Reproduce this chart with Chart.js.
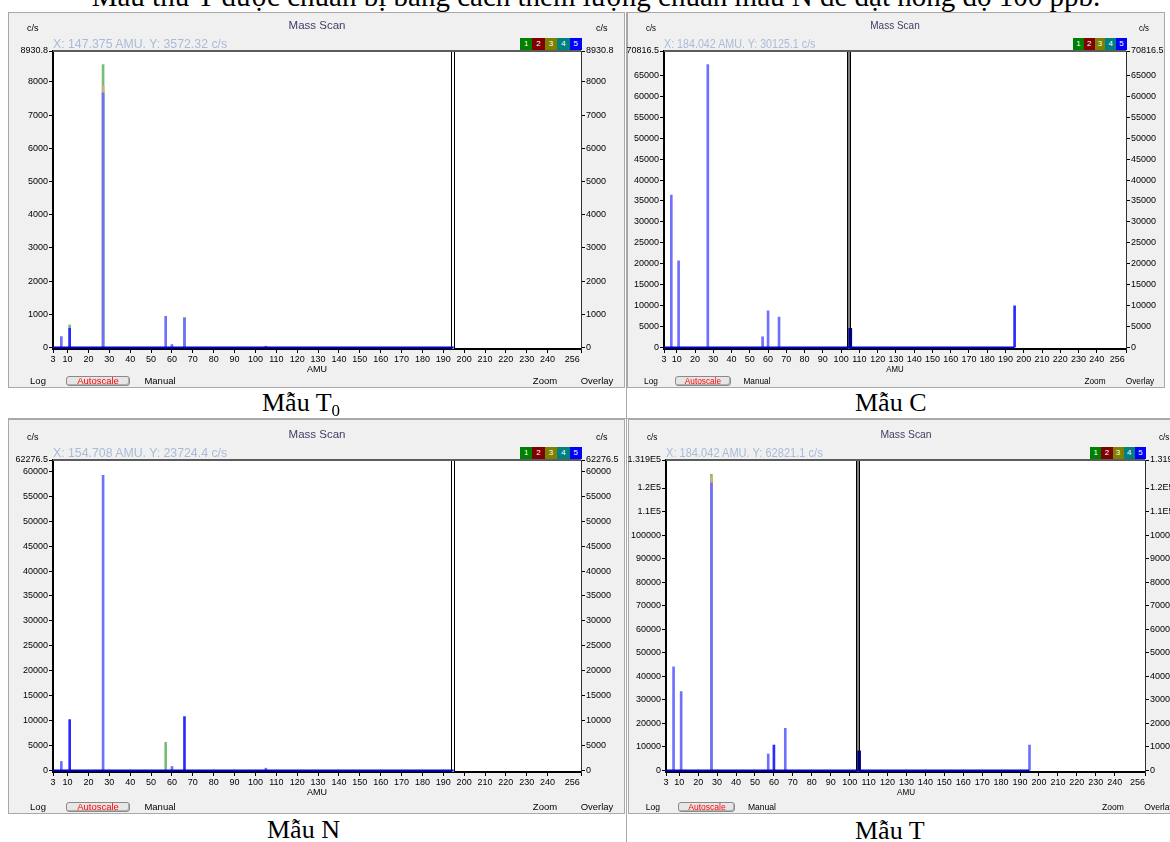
<!DOCTYPE html>
<html><head><meta charset="utf-8">
<script src="https://cdn.jsdelivr.net/npm/chart.js@4.4.1/dist/chart.umd.min.js"></script>
<style>
html,body{margin:0;padding:0;background:#fff;}
body{width:1170px;height:842px;overflow:hidden;position:relative;font-family:"Liberation Sans",Arial,sans-serif;}
.panel{position:absolute;background:#f0f0f0;box-shadow:inset 0 0 0 1px #a8a8a8;}
.t{position:absolute;white-space:nowrap;line-height:1;}
.cs{font-size:9px;color:#000;}
.ms{font-size:11.5px;color:#3e3e66;}
.rd{font-size:12.3px;color:#a9bbd7;}
.bt{font-size:9.5px;color:#000;}
.amu{font-size:9px;color:#000;}
.serif{position:absolute;white-space:nowrap;font-family:"Liberation Serif","Times New Roman",serif;font-size:26px;line-height:26px;color:#000;}
.line{position:absolute;background:#a8a8a8;}
.leg{position:absolute;color:#fff;font-size:8px;line-height:1;display:flex;align-items:center;justify-content:center;}
.btn{position:absolute;border:1px solid #8a8a8a;border-radius:3px;background:#e6e6e6;box-shadow:inset -1px -1px 0 #b0b0b0;box-sizing:border-box;}
</style></head>
<body>
<script>
// ---------------- data ----------------
const peakAMU = [7, 11, 27, 57, 60, 66, 105, 195];
const scanRange = [3, 195];
const xTicks = [3,10,20,30,40,50,60,70,80,90,100,110,120,130,140,150,160,170,180,190,200,210,220,230,240,256];

// Mẫu T0
const t0Blue  = [330, 580, 7670, 940, 90, 880, 0, 0];
const t0Olive = [0, 0, 7870, 0, 0, 0, 0, 0];
const t0Green = [0, 680, 8520, 0, 0, 910, 0, 0];
const t0Red   = [0, 0, 0, 0, 0, 0, 40, 0];
const t0YTicks  = [0,1000,2000,3000,4000,5000,6000,7000,8000,8930.8];
const t0YLabels = ['0','1000','2000','3000','4000','5000','6000','7000','8000','8930.8'];
const t0Cursor = 194.8;
const t0Readout = 'X: 147.375 AMU. Y: 3572.32 c/s';

// Mẫu C
const cBlue  = [36400, 20700, 67600, 2570, 8760, 7260, 4570, 9950];
const cYTicks  = [0,5000,10000,15000,20000,25000,30000,35000,40000,45000,50000,55000,60000,65000,70816.5];
const cYLabels = ['0','5000','10000','15000','20000','25000','30000','35000','40000','45000','50000','55000','60000','65000','70816.5'];
const cCursor = 104.3;
const cReadout = 'X: 184.042 AMU. Y: 30125.1 c/s';

// Mẫu N
const nBlue  = [1800, 10200, 59200, 0, 800, 10800, 460, 0];
const nGreen = [0, 0, 0, 5640, 0, 0, 0, 0];
const nYTicks  = [0,5000,10000,15000,20000,25000,30000,35000,40000,45000,50000,55000,60000,62276.5];
const nYLabels = ['0','5000','10000','15000','20000','25000','30000','35000','40000','45000','50000','55000','60000','62276.5'];
const nCursor = 194.8;
const nReadout = 'X: 154.708 AMU. Y: 23724.4 c/s';

// Mẫu T
const tBlue  = [44000, 33500, 122200, 7000, 10800, 17900, 8300, 10800];
const tOlive = [0, 0, 124500, 0, 0, 0, 0, 0];
const tGreen = [0, 0, 125800, 0, 0, 0, 0, 0];
const tYTicks  = [0,10000,20000,30000,40000,50000,60000,70000,80000,90000,100000,110000,120000,131900];
const tYLabels = ['0','10000','20000','30000','40000','50000','60000','70000','80000','90000','100000','1.1E5','1.2E5','1.319E5'];
const tCursor = 104.3;
const tReadout = 'X: 184.042 AMU. Y: 62821.1 c/s';

const legendLabels = ['1','2','3','4','5'];
const legendColors = ['#008000','#800000','#808000','#008080','#0000ff'];

// ---------------- layout ----------------
const FONT_REG = '"Liberation Sans", Arial, sans-serif';
const FONT_NAR = '"Liberation Sans Narrow", "Liberation Sans", Arial, sans-serif';

const panels = [
  {x:8,   y:12,  w:617, h:376, pl:53,  pr:581,  pt:51,  pb:349, sx:1,    pad256:7, font:FONT_REG, fill:'#ffffff', dark:[11],
   d:{blue:t0Blue, olive:t0Olive, green:t0Green, red:t0Red, yTicks:t0YTicks, yLabels:t0YLabels, cursor:t0Cursor, readout:t0Readout}},
  {x:627, y:12,  w:538, h:376, pl:664, pr:1126, pt:51,  pb:349, sx:0.87, pad256:7, font:FONT_NAR, fill:'#808080', dark:[195],
   d:{blue:cBlue, yTicks:cYTicks, yLabels:cYLabels, cursor:cCursor, readout:cReadout}},
  {x:8,   y:419, w:617, h:395, pl:53,  pr:581,  pt:460, pb:772, sx:1,    pad256:7, font:FONT_REG, fill:'#ffffff', dark:[11, 66],
   d:{blue:nBlue, green:nGreen, yTicks:nYTicks, yLabels:nYLabels, cursor:nCursor, readout:nReadout}},
  {x:628, y:419, w:562, h:395, pl:666, pr:1145, pt:460, pb:772, sx:0.9,  pad256:6, font:FONT_NAR, fill:'#808080', dark:[60],
   d:{blue:tBlue, olive:tOlive, green:tGreen, yTicks:tYTicks, yLabels:tYLabels, cursor:tCursor, readout:tReadout}}
];

function el(tag, cls, css, html) {
  const e = document.createElement(tag);
  if (cls) e.className = cls;
  if (css) e.style.cssText = css;
  if (html !== undefined) e.innerHTML = html;
  document.body.appendChild(e);
  return e;
}
function addText(left, cy, str, cls, align, sx) {
  const e = el('div', 't ' + cls);
  e.textContent = str;
  e.style.left = left + 'px';
  e.style.top = cy + 'px';
  const tx = align === 'c' ? '-50%' : (align === 'r' ? '-100%' : '0');
  e.style.transformOrigin = align === 'c' ? 'center center' : (align === 'r' ? 'right center' : 'left center');
  e.style.transform = `translate(${tx}, -50%) scaleX(${sx})`;
  return e;
}

const framePlugin = {
  id: 'frame',
  beforeDraw(chart) {
    const {ctx, chartArea: a} = chart;
    ctx.save();
    ctx.fillStyle = '#ffffff';
    ctx.fillRect(a.left, a.top, a.right - a.left, a.bottom - a.top);
    ctx.restore();
  },
  beforeDatasetsDraw(chart, args, opts) {
    const {ctx, chartArea: a, scales} = chart;
    const x = Math.round(scales.x.getPixelForValue(opts.cursor));
    ctx.save();
    ctx.fillStyle = opts.fill;
    ctx.fillRect(x - 1, a.top, 2, a.bottom - a.top);
    ctx.fillStyle = '#000';
    ctx.fillRect(x - 2, a.top, 1, a.bottom - a.top);
    ctx.fillRect(x + 1, a.top, 1, a.bottom - a.top);
    ctx.restore();
  },
  afterDraw(chart) {
    const {ctx, chartArea: a} = chart;
    ctx.save();
    ctx.fillStyle = '#5c5c5c';
    ctx.fillRect(a.left, a.top - 1, a.right - a.left, 2);
    ctx.restore();
  }
};

function makePanel(p) {
  const d = p.d;
  el('div', 'panel', `left:${p.x}px;top:${p.y}px;width:${p.w}px;height:${p.h}px;`);
  const cv = el('canvas', '', `position:absolute;left:${p.x}px;top:${p.y}px;width:${p.w}px;height:${p.h}px;`);
  cv.width = p.w; cv.height = p.h;
  const L = p.pl - p.x, R = (p.x + p.w) - p.pr, T = p.pt - p.y, B = (p.y + p.h) - p.pb;
  const ymax = d.yTicks[d.yTicks.length - 1];
  const ymin = -ymax * 0.005;
  const near = x => Math.abs(x - d.cursor) < 1;
  const pts = (arr, atCursor) => peakAMU.map((x, i) => ({x: x, y: arr[i]}))
      .filter(o => o.y > 0 && (atCursor ? near(o.x) : !near(o.x)));
  const bar = (data, color, order, thick) => ({type: 'bar', data: data, backgroundColor: color,
      borderWidth: 0, barThickness: thick, grouped: false, order: order});
  const ds = [];
  if (d.green) ds.push(bar(pts(d.green, false), '#78be78', 6, 2));
  if (d.olive) ds.push(bar(pts(d.olive, false), '#c6b676', 5, 2));
  if (d.red) ds.push(bar(pts(d.red, false), '#c05858', 5, 2));
  ds.push(bar(pts(d.blue, false),
      c => (c.raw && p.dark.indexOf(c.raw.x) >= 0) ? '#2a2aff' : '#7070ff', 4, 2));
  ds.push(bar(pts(d.blue, true), '#000080', 3, 3));
  ds.push({type: 'line', data: scanRange.map(x => ({x: x, y: 0})), borderColor: '#0000c8',
      borderWidth: 2, pointRadius: 0, order: 1});

  const tickFont = {family: p.font, size: 9};
  const yScale = (pos, width, bw, bc) => ({
    position: pos, min: ymin, max: ymax,
    afterFit: s => { s.width = width; },
    afterBuildTicks: s => { s.ticks = d.yTicks.map(v => ({value: v})); },
    ticks: {autoSkip: false, font: tickFont, color: '#000', padding: 1,
      callback: (v, i) => d.yLabels[i]},
    grid: {drawOnChartArea: false, drawTicks: true, tickLength: 4, color: '#000', lineWidth: 1},
    border: {display: true, color: bc, width: bw}
  });
  const lastX = xTicks[xTicks.length - 1];

  new Chart(cv, {
    type: 'bar',
    data: {datasets: ds},
    options: {
      responsive: false, animation: false, devicePixelRatio: 1,
      layout: {padding: {top: T, left: 0, right: 0, bottom: 0}},
      plugins: {legend: {display: false}, tooltip: {enabled: false}, title: {display: false},
        frame: {cursor: d.cursor, fill: p.fill}},
      scales: {
        x: {type: 'linear', position: 'bottom', min: 3, max: 256, offset: false,
          afterFit: s => { s.height = B; },
          afterBuildTicks: s => { s.ticks = xTicks.map(v => ({value: v})); },
          ticks: {autoSkip: false, maxRotation: 0, font: tickFont, color: '#000', padding: 1,
            callback: v => v === lastX ? String(v) + ' '.repeat(p.pad256) : String(v)},
          grid: {drawOnChartArea: false, drawTicks: true, tickLength: 4, color: '#000', lineWidth: 1, offset: false},
          border: {display: true, color: '#000', width: 2}},
        y: yScale('left', L, 2, '#000'),
        y2: yScale('right', R, 1, '#303030')
      }
    },
    plugins: [framePlugin]
  });

  // overlay texts
  const sx = p.sx;
  const cx = (p.pl + p.pr) / 2;
  addText(p.x + 19, p.pt - 23, 'c/s', 'cs', 'l', sx);
  addText(p.pr + 15 * sx, p.pt - 23, 'c/s', 'cs', 'l', sx);
  addText(cx, p.pt - 25, 'Mass Scan', 'ms', 'c', sx);
  addText(p.pl, p.pt - 7.5, d.readout, 'rd', 'l', sx);
  const lw = 62 * sx / 5;
  legendLabels.forEach((lab, i) => {
    const e = el('div', 'leg', `left:${p.pr + 1 - 62 * sx + i * lw}px;top:${p.pt - 13}px;width:${lw}px;height:12px;background:${legendColors[i]};`);
    e.textContent = lab;
  });
  addText(cx, p.pb + 20, 'AMU', 'amu', 'c', sx);
  const by = p.y + p.h - 7;
  addText(p.pl - 15 * sx, by, 'Log', 'bt', 'c', sx);
  el('div', 'btn', `left:${p.pl + 13 * sx}px;top:${p.y + p.h - 12}px;width:${64 * sx}px;height:10px;`);
  const a = addText(p.pl + 45 * sx, by, 'Autoscale', 'bt', 'c', sx);
  a.style.color = '#ff0000';
  addText(p.pl + 107 * sx, by, 'Manual', 'bt', 'c', sx);
  addText(p.pr - 36 * sx, by, 'Zoom', 'bt', 'c', sx);
  addText(p.pr + 16 * sx, by, 'Overlay', 'bt', 'c', sx);
}

// table lines
el('div', 'line', 'left:8px;top:418px;width:1162px;height:1px;');
el('div', 'line', 'left:626px;top:12px;width:1px;height:830px;');

panels.forEach(makePanel);

// texts outside the charts
el('div', 'serif', 'left:596px;top:-18px;font-size:29px;line-height:29px;transform:translateX(-50%);',
   'Mẫu thử T được chuẩn bị bằng cách thêm lượng chuẩn mẫu N để đạt nồng độ 100 ppb.');
el('div', 'serif', 'left:262px;top:390px;', 'Mẫu T<span style="font-size:17px;position:relative;top:5px;">0</span>');
el('div', 'serif', 'left:855px;top:390px;', 'Mẫu C');
el('div', 'serif', 'left:267px;top:817px;', 'Mẫu N');
el('div', 'serif', 'left:855px;top:818px;', 'Mẫu T');
</script>
</body></html>
